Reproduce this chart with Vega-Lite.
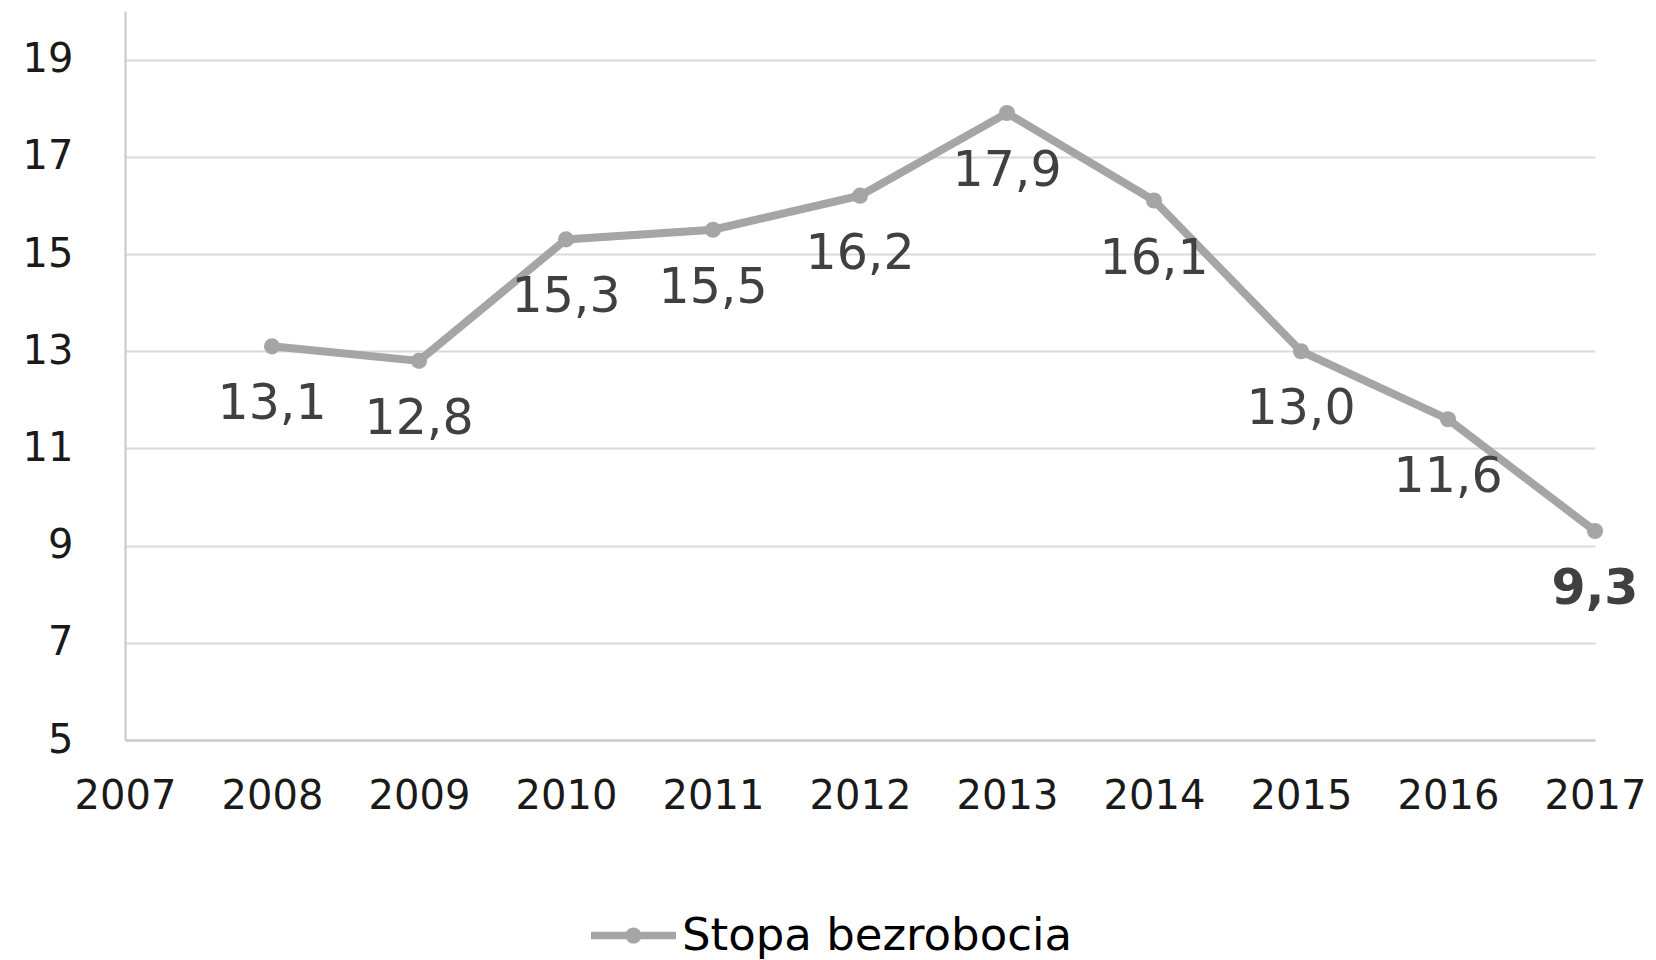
{
  "$schema": "https://vega.github.io/schema/vega-lite/v6.json",
  "width": 1470,
  "height": 729,
  "autosize": {"type": "none"},
  "padding": {"left": 125, "top": 11, "right": 61, "bottom": 220},
  "background": "white",
  "config": {
    "locale": {"number": {"decimal": ",", "thousands": " ", "grouping": [3], "currency": ["", " zł"]}},
    "view": {"stroke": null},
    "font": "DejaVu Sans"
  },
  "data": {
    "values": [
      {"year": 2008, "rate": 13.1, "series": "Stopa bezrobocia"},
      {"year": 2009, "rate": 12.8, "series": "Stopa bezrobocia"},
      {"year": 2010, "rate": 15.3, "series": "Stopa bezrobocia"},
      {"year": 2011, "rate": 15.5, "series": "Stopa bezrobocia"},
      {"year": 2012, "rate": 16.2, "series": "Stopa bezrobocia"},
      {"year": 2013, "rate": 17.9, "series": "Stopa bezrobocia"},
      {"year": 2014, "rate": 16.1, "series": "Stopa bezrobocia"},
      {"year": 2015, "rate": 13.0, "series": "Stopa bezrobocia"},
      {"year": 2016, "rate": 11.6, "series": "Stopa bezrobocia"},
      {"year": 2017, "rate": 9.3, "series": "Stopa bezrobocia"}
    ]
  },
  "encoding": {
    "x": {
      "field": "year", "type": "quantitative",
      "scale": {"domain": [2007, 2017], "nice": false, "zero": false},
      "axis": {
        "title": null, "values": [2007, 2008, 2009, 2010, 2011, 2012, 2013, 2014, 2015, 2016, 2017],
        "format": "d", "grid": false, "ticks": false, "domainColor": "#C8C8C8", "domainWidth": 2,
        "labelFontSize": 40, "labelColor": "#1a1a1a", "labelPadding": 36, "labelFlush": false, "labelOverlap": false
      }
    },
    "y": {
      "field": "rate", "type": "quantitative",
      "scale": {"domain": [5, 20], "nice": false, "zero": false},
      "axis": {
        "title": null, "values": [5, 7, 9, 11, 13, 15, 17, 19], "format": "d",
        "grid": true, "gridColor": "#D9D9D9", "gridWidth": 2, "ticks": false,
        "domainColor": "#C8C8C8", "domainWidth": 2,
        "labelFontSize": 40, "labelColor": "#1a1a1a", "labelPadding": 52
      }
    }
  },
  "layer": [
    {
      "mark": {"type": "line", "strokeWidth": 8, "point": {"filled": true, "size": 260}},
      "encoding": {
        "color": {
          "field": "series", "type": "nominal",
          "scale": {"range": ["#A5A5A5"]},
          "legend": {
            "title": null, "orient": "none", "legendX": 466, "legendY": 882,
            "labelFontSize": 45, "labelColor": "#000000", "labelOffset": 6, "labelLimit": 0,
            "symbolType": "M-1,-0.09 L1,-0.09 L1,0.09 L-1,0.09 Z M-0.19,0 A0.19,0.19 0 1,1 0.19,0 A0.19,0.19 0 1,1 -0.19,0 Z",
            "symbolSize": 7225, "symbolStrokeWidth": 0, "symbolFillColor": "#A5A5A5", "symbolOpacity": 1
          }
        }
      }
    },
    {
      "transform": [{"filter": "datum.year != 2017"}],
      "mark": {"type": "text", "dy": 58, "baseline": "middle", "align": "center", "fontSize": 49, "color": "#404040"},
      "encoding": {"text": {"field": "rate", "type": "quantitative", "format": ".1f"}}
    },
    {
      "transform": [{"filter": "datum.year == 2017"}],
      "mark": {"type": "text", "dy": 58, "baseline": "middle", "align": "center", "fontSize": 49, "fontWeight": "bold", "color": "#404040"},
      "encoding": {"text": {"field": "rate", "type": "quantitative", "format": ".1f"}}
    }
  ]
}
